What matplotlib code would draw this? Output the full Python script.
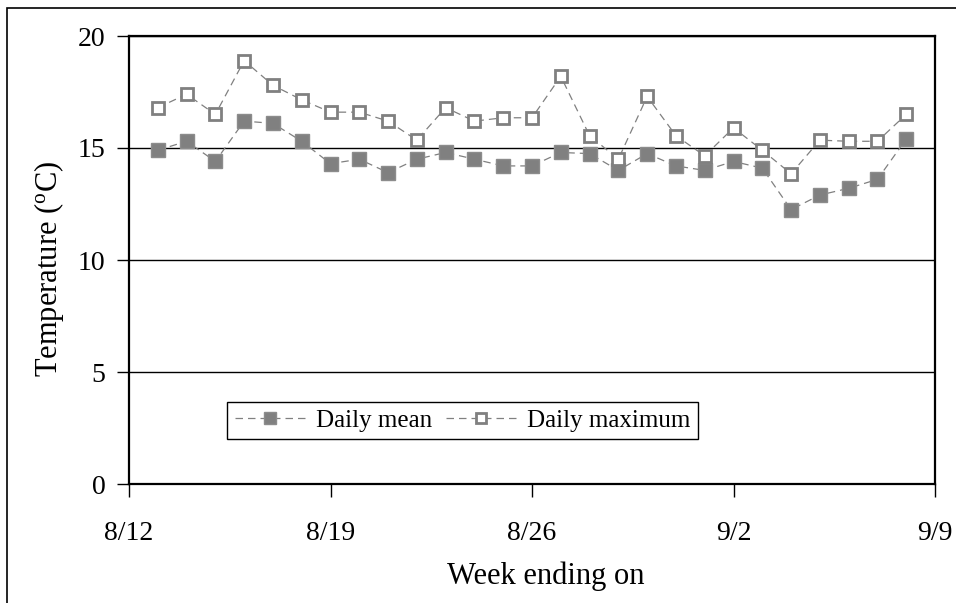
import matplotlib
matplotlib.use("Agg")
import matplotlib.pyplot as plt
import pandas as pd
from matplotlib.patches import Rectangle

plt.rcParams['font.family'] = ['Liberation Serif', 'DejaVu Serif']
plt.rcParams['mathtext.fontset'] = 'custom'
plt.rcParams['mathtext.rm'] = 'Liberation Serif'

days = pd.date_range('2003-08-13', '2003-09-08', freq='D')
daily_mean = [14.9, 15.3, 14.4, 16.2, 16.1, 15.3, 14.3, 14.5, 13.9, 14.5, 14.8, 14.5, 14.2, 14.2,
              14.8, 14.75, 14.0, 14.75, 14.2, 14.0, 14.4, 14.1, 12.25, 12.9, 13.2, 13.6, 15.4]
daily_max = [16.8, 17.4, 16.5, 18.9, 17.8, 17.15, 16.6, 16.6, 16.2, 15.35, 16.8, 16.2, 16.35, 16.35,
             18.2, 15.55, 14.5, 17.3, 15.55, 14.65, 15.9, 14.9, 13.85, 15.35, 15.3, 15.3, 16.5]
tick_dates = pd.to_datetime(['2003-08-12', '2003-08-19', '2003-08-26', '2003-09-02', '2003-09-09'])
tick_labels = ['8/12', '8/19', '8/26', '9/2', '9/9']

fig = plt.figure(figsize=(9.56, 6.03), dpi=100)
ax = fig.add_axes([129/956, 1-484/603, 806/956, 448/603])

grey = '#808080'
ax.plot(days, daily_mean, linestyle=(0, (6, 4)), color=grey, linewidth=0.9,
        marker='s', markersize=10, markerfacecolor=grey, markeredgecolor='#8c8c8c',
        markeredgewidth=1, label='Daily mean')
ax.plot(days, daily_max, linestyle=(0, (6, 4)), color=grey, linewidth=0.9,
        marker='s', markersize=8.5, markerfacecolor='white', markeredgecolor=grey,
        markeredgewidth=2, label='Daily maximum')

ax.set_ylim(0, 20)
ax.set_yticks([0, 5, 10, 15, 20])
ax.set_xlim(tick_dates[0], tick_dates[-1])
ax.set_xticks(tick_dates)
ax.set_xticklabels(tick_labels)
ax.yaxis.grid(True, color='black', linewidth=1)
ax.set_axisbelow(True)

for s in ax.spines.values():
    s.set_linewidth(1.6)
    s.set_color('black')

ax.tick_params(axis='y', direction='out', length=9, width=1, labelsize=20, pad=8)
ax.tick_params(axis='x', direction='out', length=9, width=1, labelsize=20, pad=18)

ax.set_ylabel('Temperature ($\\mathregular{^o}$C)', fontsize=22)
ax.yaxis.set_label_coords(-0.078, 0.48)
ax.set_xlabel('Week ending on', fontsize=22)
ax.xaxis.set_label_coords(0.517, -0.172)

leg = ax.legend(loc='lower left', bbox_to_anchor=(0.1216, 0.1004), ncol=2, fontsize=18,
                frameon=True, fancybox=False, framealpha=1, edgecolor='black',
                handlelength=2.8, columnspacing=0.55, handletextpad=0.45,
                borderpad=0.3, borderaxespad=0, markerscale=0.9)
leg.get_frame().set_linewidth(1)

# outer chart frame
fig.patches.append(Rectangle((7/956, -0.05), 1.1, 1.05 - 8/603, transform=fig.transFigure,
                             fill=False, edgecolor='black', linewidth=1.2))

fig.savefig('out.png', dpi=100)
